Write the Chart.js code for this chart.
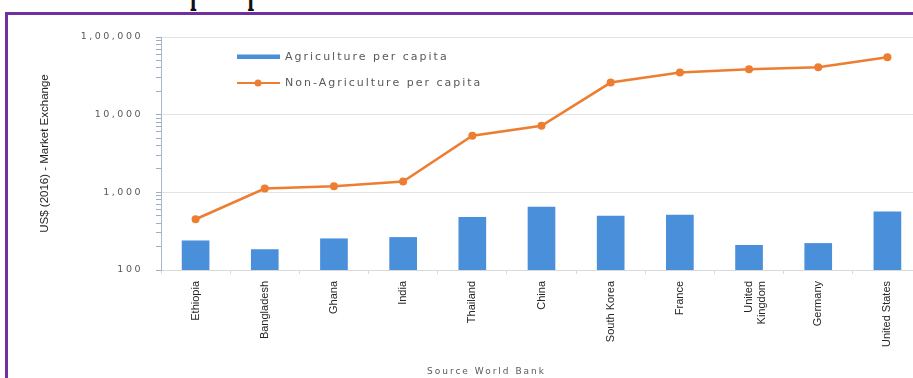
<!DOCTYPE html>
<html><head><meta charset="utf-8">
<script src="https://cdn.jsdelivr.net/npm/chart.js@4.4.1/dist/chart.umd.min.js"></script>
<style>
html,body{margin:0;padding:0;width:913px;height:378px;overflow:hidden;background:#fff;}
#wrap{position:relative;width:913px;height:378px;overflow:hidden;background:#fff;}
#c{position:absolute;left:0;top:0;}
#frame{position:absolute;left:5px;top:12px;width:1000px;height:500px;border:3px solid #7030A0;box-sizing:border-box;pointer-events:none;}
#title{position:absolute;left:115px;top:-46px;font:bold 22px/22px 'Liberation Serif';transform:scaleY(2.5);transform-origin:0 0;white-space:nowrap;color:#111;}
#source{position:absolute;left:427px;top:366px;font:9px 'DejaVu Sans';letter-spacing:2px;color:#595959;white-space:nowrap;}
</style></head>
<body><div id="wrap">
<div id="title">Income per capita</div>
<canvas id="c" width="926" height="378"></canvas>
<div id="frame"></div>
<div id="source">Source World Bank</div>
</div>
<script>
const categories = ['Ethiopia','Bangladesh','Ghana','India','Thailand','China','South Korea','France',['United','Kingdom'],'Germany','United States'];
const agriculturePerCapita = [240,185,255,265,480,650,500,515,210,222,565];
const nonAgriculturePerCapita = [450,1120,1200,1380,5350,7200,25900,35000,38500,40800,55000];
const yTickLabels = {100:'100',1000:'1,000',10000:'10,000',100000:'1,00,000'};
const yTickValues = [100,200,300,400,500,600,700,800,900,
                     1000,2000,3000,4000,5000,6000,7000,8000,9000,
                     10000,20000,30000,40000,50000,60000,70000,80000,90000,100000];
const seriesNames = ['Agriculture per capita','Non-Agriculture per capita'];

const isMajor = v => yTickLabels[Math.round(v)] !== undefined;

const spacingPlugin = {
  id:'ySpacing',
  beforeDraw(chart){
    const y = chart.scales.y;
    if (y && !y._wrapped){
      const orig = y.drawLabels;
      y.drawLabels = function(area){ const ctx=this.ctx; ctx.save(); ctx.letterSpacing='2.5px'; orig.call(this, area); ctx.restore(); };
      y._wrapped = true;
    }
  }
};

const legendPlugin = {
  id:'customLegend',
  afterDraw(chart){
    const ctx = chart.ctx; const ds = chart.data.datasets;
    ctx.save();
    ctx.font = '11px "DejaVu Sans"'; ctx.letterSpacing = '2px'; ctx.textBaseline = 'middle';
    ctx.fillStyle = ds[0].backgroundColor; ctx.fillRect(237, 54.5, 43, 4.5);
    ctx.fillStyle = '#595959'; ctx.fillText(ds[0].label, 285, 57);
    ctx.strokeStyle = ds[1].borderColor; ctx.lineWidth = 2;
    ctx.beginPath(); ctx.moveTo(237, 83); ctx.lineTo(280, 83); ctx.stroke();
    ctx.fillStyle = ds[1].borderColor; ctx.beginPath(); ctx.arc(258, 83, 3.5, 0, Math.PI*2); ctx.fill();
    ctx.fillStyle = '#595959'; ctx.fillText(ds[1].label, 285, 83);
    ctx.restore();
  }
};

new Chart(document.getElementById('c'), {
  type:'bar',
  data:{
    labels: categories,
    datasets:[
      {type:'bar', label: seriesNames[0], data: agriculturePerCapita, backgroundColor:'#4A8FDA', barPercentage:0.4, categoryPercentage:1, order:1},
      {type:'line', label: seriesNames[1], data: nonAgriculturePerCapita, borderColor:'#ED7D31', backgroundColor:'#ED7D31', borderWidth:2.5, pointRadius:4, pointBackgroundColor:'#ED7D31', pointBorderWidth:0, tension:0, order:0}
    ]
  },
  options:{
    responsive:false, animation:false, devicePixelRatio:1,
    layout:{padding:{top:37,left:0,right:0,bottom:0}},
    plugins:{legend:{display:false}, tooltip:{enabled:false}},
    scales:{
      x:{
        type:'category',
        afterFit(s){ s.height = 108; },
        grid:{offset:true, drawOnChartArea:false, tickLength:4, color:'#d9d9d9', tickColor:'#d9d9d9'},
        border:{color:'#d9d9d9'},
        ticks:{minRotation:90, maxRotation:90, autoSkip:false, padding:7, color:'#262626', font:{family:'Liberation Sans', size:11}}
      },
      y:{
        type:'logarithmic', min:100, max:100000,
        afterFit(s){ s.width = 161; },
        afterBuildTicks(s){ s.ticks = yTickValues.map(v => ({value:v, major:isMajor(v)})); },
        grid:{color: c => (c.tick && isMajor(c.tick.value)) ? '#e3e3e3' : 'rgba(0,0,0,0)', tickColor:'#9fadc4', tickLength:5},
        border:{color:'#aab6ca'},
        ticks:{autoSkip:false, padding:13, color:'#595959', font:{family:'DejaVu Sans', size:9.5},
          callback: v => yTickLabels[Math.round(v)] ?? ''},
        title:{display:true, text:'US$ (2016) - Market Exchange', color:'#1f1f1f', font:{family:'Liberation Sans', size:11.5}, padding:{top:38,bottom:0}}
      }
    }
  },
  plugins:[spacingPlugin, legendPlugin]
});
</script>
</body></html>
